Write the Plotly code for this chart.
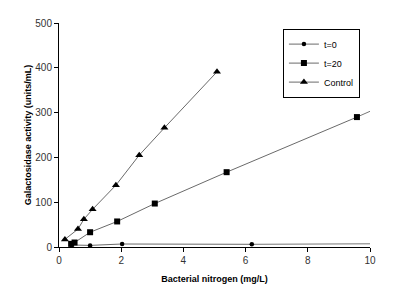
import numpy as np
import plotly.graph_objects as go

# Data
t0_x = [0.40, 1.00, 2.03, 6.20]
t0_y = [4.5, 3.6, 6.7, 6.0]

t20_x = [0.39, 0.50, 1.00, 1.87, 3.08, 5.39, 9.58]
t20_y = [7, 10, 33, 57, 97, 167, 290]

ctrl_x = [0.19, 0.61, 0.80, 1.08, 1.83, 2.58, 3.39, 5.08]
ctrl_y = [17, 40, 62, 84, 138, 205, 266, 391]

series_names = ["t=0", "t=20", "Control"]
x_ticks = [0, 2, 4, 6, 8, 10]
y_ticks = [0, 100, 200, 300, 400, 500]
trend_end = 10.1

FONT = "Liberation Sans, Arial, sans-serif"

fig = go.Figure()


def forecast(xs, ys, x_end):
    # linear-trend forecast continuing beyond the last measured point
    k, _ = np.polyfit(xs, ys, 1)
    xx = np.array([xs[-1], x_end])
    return xx, ys[-1] + k * (xx - xs[-1])


for xs, ys in [(t0_x, t0_y), (t20_x, t20_y)]:
    tx, ty = forecast(xs, ys, trend_end)
    fig.add_trace(go.Scatter(x=tx, y=ty, mode="lines", showlegend=False,
                             line=dict(color="#777777", width=1), hoverinfo="skip"))

line_style = dict(color="#6a6a6a", width=1)
fig.add_trace(go.Scatter(x=t0_x, y=t0_y, name=series_names[0], mode="lines+markers",
                         line=line_style,
                         marker=dict(symbol="circle", size=4.5, color="black")))
fig.add_trace(go.Scatter(x=t20_x, y=t20_y, name=series_names[1], mode="lines+markers",
                         line=line_style,
                         marker=dict(symbol="square", size=6, color="black")))
fig.add_trace(go.Scatter(x=ctrl_x, y=ctrl_y, name=series_names[2], mode="lines+markers",
                         line=line_style,
                         marker=dict(symbol="triangle-up", size=7, color="black")))

# page body has an 8px default margin, so size the figure to fit the window
fig.update_layout(
    width=407, height=291,
    margin=dict(l=51, r=45, t=15, b=52),
    paper_bgcolor="white", plot_bgcolor="white",
    font=dict(family=FONT, size=10, color="#222"),
    legend=dict(x=0.72, y=0.975, xanchor="left", yanchor="top",
                bordercolor="black", borderwidth=1, bgcolor="white",
                font=dict(size=9, color="black"), itemwidth=30,
                tracegroupgap=0),
    xaxis=dict(range=[0, 10], tickvals=x_ticks, showgrid=False, zeroline=False,
               automargin=False,
               showline=True, linecolor="black", linewidth=1,
               ticks="outside", ticklen=4, tickcolor="black",
               tickfont=dict(size=10, color="#333"),
               title=dict(text="<b>Bacterial nitrogen (mg/L)</b>",
                          font=dict(size=9, color="black"), standoff=10)),
    yaxis=dict(range=[0, 500], tickvals=y_ticks, showgrid=False, zeroline=False,
               automargin=False,
               showline=True, linecolor="black", linewidth=1,
               ticks="outside", ticklen=4, tickcolor="black",
               tickfont=dict(size=10, color="#333"),
               title=dict(text="<b>Galactosidase activity (units/mL)</b>",
                          font=dict(size=9, color="black"), standoff=2)),
)

fig.write_html("out.html")
